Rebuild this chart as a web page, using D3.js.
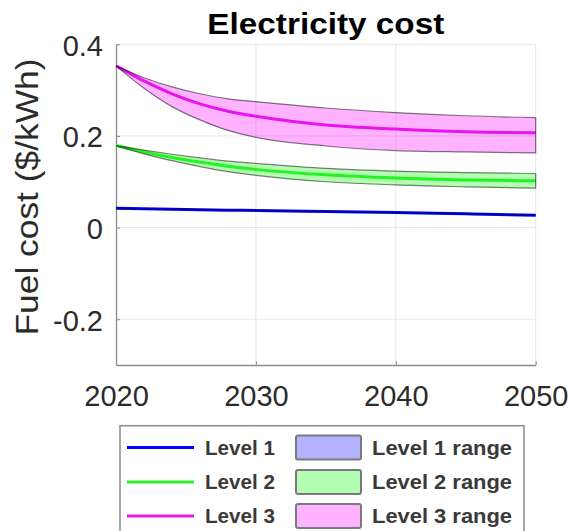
<!DOCTYPE html>
<html>
<head>
<meta charset="utf-8">
<script src="https://cdn.jsdelivr.net/npm/d3@7"></script>
<style>
  html, body { margin: 0; padding: 0; background: #fff; }
  svg { display: block; }
</style>
</head>
<body>
<svg id="chart" width="572" height="531"></svg>
<script>
// Projected electricity cost by level, with low/high range per level ($/kWh)
const years = [2020, 2022, 2024, 2026, 2028, 2030, 2035, 2040, 2045, 2050];

const level1 = [0.042, 0.041, 0.040, 0.039, 0.038, 0.0375, 0.035, 0.0326, 0.030, 0.027];
const level1Low = [0.042, 0.041, 0.040, 0.039, 0.038, 0.0375, 0.035, 0.0326, 0.030, 0.027];
const level1High = [0.042, 0.041, 0.040, 0.039, 0.038, 0.0375, 0.035, 0.0326, 0.030, 0.027];

const level2 = [0.179, 0.165, 0.153, 0.143, 0.134, 0.127, 0.115, 0.108, 0.104, 0.102];
const level2Low = [0.179, 0.161, 0.146, 0.133, 0.122, 0.114, 0.100, 0.093, 0.089, 0.086];
const level2High = [0.179, 0.169, 0.160, 0.152, 0.145, 0.140, 0.129, 0.123, 0.120, 0.118];

const level3 = [0.353, 0.320, 0.292, 0.270, 0.254, 0.243, 0.224, 0.215, 0.209, 0.207];
const level3Low = [0.353, 0.304, 0.264, 0.235, 0.212, 0.197, 0.178, 0.168, 0.165, 0.163];
const level3High = [0.353, 0.327, 0.307, 0.292, 0.281, 0.275, 0.261, 0.251, 0.244, 0.240];

const xTicks = [2020, 2030, 2040, 2050];
const yTicks = [-0.2, 0, 0.2, 0.4];
const yTickLabels = ["-0.2", "0", "0.2", "0.4"];

const seriesNames = ["Level 1", "Level 2", "Level 3"];
const rangeNames = ["Level 1 range", "Level 2 range", "Level 3 range"];
const lineColors = ["#0000ff", "#33ee33", "#e01ee6"];
const bandColors = ["#0000ff", "#00ff00", "#ff00ff"];

const centers = [level1, level2, level3];
const lows = [level1Low, level2Low, level3Low];
const highs = [level1High, level2High, level3High];

const svg = d3.select("#chart");
const plotLeft = 116, plotRight = 535.7, plotTop = 44.3, plotBottom = 365;

const x = d3.scaleLinear().domain([2020, 2050]).range([plotLeft, plotRight]);
const y = d3.scaleLinear().domain([-0.3, 0.4]).range([plotBottom, plotTop]);

// grid
const grid = svg.append("g");
grid.selectAll(".gx").data(xTicks.slice(1)).join("line")
  .attr("x1", d => x(d)).attr("x2", d => x(d))
  .attr("y1", plotTop).attr("y2", plotBottom)
  .attr("stroke", "#e6e6e6").attr("stroke-width", 1);
grid.selectAll(".gy").data(yTicks).join("line")
  .attr("x1", plotLeft).attr("x2", plotRight)
  .attr("y1", d => y(d)).attr("y2", d => y(d))
  .attr("stroke", "#e6e6e6").attr("stroke-width", 1);

// axes (ticks pointing inward)
const axisColor = "#8a8a8a";
const xAxis = svg.append("g").attr("transform", `translate(0,${plotBottom})`)
  .call(d3.axisBottom(x).tickValues(xTicks).tickSize(-4).tickFormat(d3.format("d")).tickSizeOuter(0));
xAxis.select(".domain").attr("stroke", axisColor).attr("stroke-width", 1.3);
xAxis.selectAll(".tick line").attr("stroke", axisColor);
xAxis.selectAll(".tick text")
  .attr("font-family", "Liberation Sans, Arial, sans-serif")
  .attr("font-size", 29).attr("fill", "#2b2b2b")
  .attr("y", 0).attr("dy", null)
  .attr("transform", "translate(0,41)");

const yAxis = svg.append("g").attr("transform", `translate(${plotLeft},0)`)
  .call(d3.axisLeft(y).tickValues(yTicks).tickSize(-4).tickSizeOuter(0)
    .tickFormat((d, i) => yTickLabels[i]));
yAxis.select(".domain").attr("stroke", axisColor).attr("stroke-width", 1.3);
yAxis.selectAll(".tick line").attr("stroke", axisColor);
yAxis.selectAll(".tick text")
  .attr("font-family", "Liberation Sans, Arial, sans-serif")
  .attr("font-size", 29).attr("fill", "#2b2b2b")
  .attr("x", -13).attr("dy", null).attr("y", 11);

// center lines drawn first, ranges drawn over them
const line = d3.line().x((d, i) => x(years[i])).y(d => y(d)).curve(d3.curveMonotoneX);
const area = d3.area().x((d, i) => x(years[i]))
  .y0(d => y(d[0])).y1(d => y(d[1])).curve(d3.curveMonotoneX);

centers.forEach((c, k) => {
  svg.append("path").datum(c)
    .attr("d", line).attr("fill", "none")
    .attr("stroke", lineColors[k]).attr("stroke-width", 3);
});

[0, 1, 2].forEach(k => {
  const pairs = lows[k].map((v, i) => [v, highs[k][i]]);
  svg.append("path").attr("d", area(pairs))
    .attr("fill", bandColors[k]).attr("fill-opacity", 0.3)
    .attr("stroke", "#000").attr("stroke-opacity", 0.5).attr("stroke-width", 1.2);
});

// title
svg.append("text")
  .attr("x", (plotLeft + plotRight) / 2).attr("y", 34)
  .attr("text-anchor", "middle")
  .attr("font-family", "Liberation Sans, Arial, sans-serif")
  .attr("font-weight", "bold").attr("font-size", 29).attr("fill", "#000")
  .attr("textLength", 237).attr("lengthAdjust", "spacingAndGlyphs")
  .text("Electricity cost");

// y-axis title
svg.append("text")
  .attr("transform", "translate(38,197) rotate(-90)")
  .attr("text-anchor", "middle")
  .attr("font-family", "Liberation Sans, Arial, sans-serif")
  .attr("font-size", 31).attr("fill", "#2b2b2b")
  .attr("textLength", 277).attr("lengthAdjust", "spacingAndGlyphs")
  .text("Fuel cost ($/kWh)");

// legend
const legend = svg.append("g");
legend.append("rect")
  .attr("x", 120).attr("y", 425.7).attr("width", 404).attr("height", 130)
  .attr("fill", "#fff").attr("stroke", "#8a8a8a").attr("stroke-width", 1.5);

const rowY = [447.5, 482, 516];
const legendFont = "Liberation Sans, Arial, sans-serif";
seriesNames.forEach((name, k) => {
  const cy = rowY[k];
  legend.append("line")
    .attr("x1", 127).attr("x2", 194).attr("y1", cy).attr("y2", cy)
    .attr("stroke", lineColors[k]).attr("stroke-width", 3);
  legend.append("text")
    .attr("x", 205).attr("y", cy + 7)
    .attr("font-family", legendFont).attr("font-weight", "bold")
    .attr("font-size", 20).attr("fill", "#3a3a3a")
    .attr("textLength", 70).attr("lengthAdjust", "spacingAndGlyphs")
    .text(name);
  legend.append("rect")
    .attr("x", 296).attr("y", cy - 12).attr("width", 65).attr("height", 24)
    .attr("rx", 2)
    .attr("fill", bandColors[k]).attr("fill-opacity", 0.3)
    .attr("stroke", "#7a7a7a").attr("stroke-width", 2);
  legend.append("text")
    .attr("x", 372).attr("y", cy + 7)
    .attr("font-family", legendFont).attr("font-weight", "bold")
    .attr("font-size", 20).attr("fill", "#3a3a3a")
    .attr("textLength", 140).attr("lengthAdjust", "spacingAndGlyphs")
    .text(rangeNames[k]);
});
</script>
</body>
</html>
